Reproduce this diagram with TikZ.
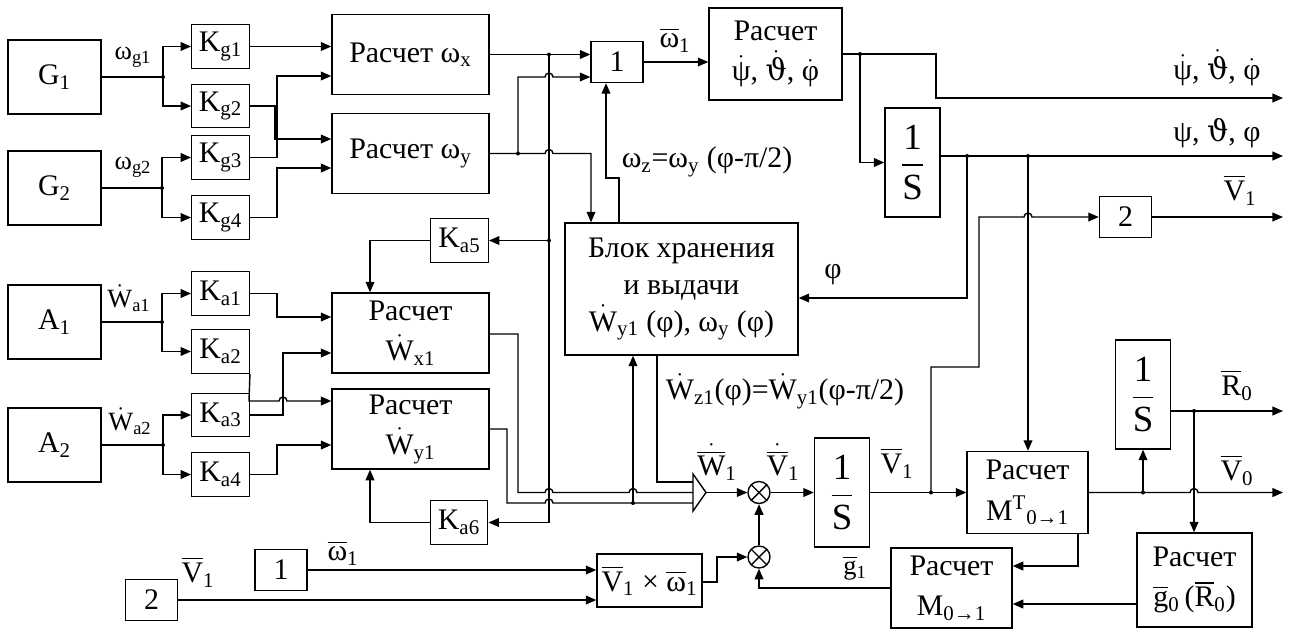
\documentclass[tikz,border=0pt]{standalone}
\usepackage{amsmath}
\usepackage{fontspec}
\setmainfont{Liberation Serif}
\newfontfamily\dvs{DejaVu Serif}
\usepackage{tikz}
\usetikzlibrary{arrows.meta,positioning}
\newcommand{\dt}[1]{\ensuremath{\dot{\hbox{#1}}}}
\newcommand{\br}[1]{\ensuremath{\overline{\hbox{#1}}}}
\newcommand{\dbr}[1]{\ensuremath{\dot{\overline{\hbox{#1}}}}}
\newcommand{\fr}{\ensuremath{\dfrac{\hbox{1}}{\hbox{S}}}}
\newcommand{\vth}{{\dvs ϑ}}

\begin{document}
\begin{tikzpicture}[
  x=0.02cm, y=-0.02cm, line width=0.8pt,
  font=\fontsize{17}{23}\selectfont,
  blk/.style={draw, align=center, inner sep=1pt},
  src/.style={blk, minimum width=1.86cm, minimum height=1.48cm},
  kbox/.style={blk, minimum width=1.15cm, minimum height=0.87cm},
  rbox/.style={blk, minimum width=3.14cm, minimum height=1.6cm},
  intg/.style={blk, minimum width=1.1cm, minimum height=2.18cm, font=\fontsize{21}{24}\selectfont},
  gain/.style={blk, minimum width=1.04cm, minimum height=0.82cm},
  mul/.style={draw, circle, minimum size=0.44cm, inner sep=0pt,
              path picture={\draw (path picture bounding box.north west) -- (path picture bounding box.south east)
                                  (path picture bounding box.north east) -- (path picture bounding box.south west);}},
  small/.style={font=\fontsize{15}{17}\selectfont},
  arr/.style={-{Triangle[length=6pt,width=5pt]}}]
  \useasboundingbox (0,0) rectangle (1293,630);

  \node[src] (G1) at (54.5,77) {G\textsubscript{1}};
  \node[src] (G2) at (54.5,188) {G\textsubscript{2}};
  \node[src] (A1) at (54.5,322) {A\textsubscript{1}};
  \node[src] (A2) at (54.5,445) {A\textsubscript{2}};
  \node[kbox] (Kg1) at (220.5,46.5) {K\textsubscript{g1}};
  \node[kbox] (Kg2) at (220.5,106) {K\textsubscript{g2}};
  \node[kbox] (Kg3) at (220.5,157.5) {K\textsubscript{g3}};
  \node[kbox] (Kg4) at (220.5,217.5) {K\textsubscript{g4}};
  \node[kbox] (Ka1) at (220.5,293.5) {K\textsubscript{a1}};
  \node[kbox] (Ka2) at (220.5,351.5) {K\textsubscript{a2}};
  \node[kbox] (Ka3) at (220.5,415) {K\textsubscript{a3}};
  \node[kbox] (Ka4) at (220.5,474.5) {K\textsubscript{a4}};
  \node[kbox] (Ka5) at (459.5,240.5) {K\textsubscript{a5}};
  \node[kbox] (Ka6) at (459,522.5) {K\textsubscript{a6}};
  \node[rbox] (Rwx) at (410.5,54.5) {Расчет ω\textsubscript{x}};
  \node[rbox] (Rwy) at (410.5,153.5) {Расчет ω\textsubscript{y}};
  \node[rbox] (RWx) at (410.5,333) {Расчет\\\dt{W}\textsubscript{x1}};
  \node[rbox] (RWy) at (410.5,429) {Расчет\\\dt{W}\textsubscript{y1}};
  \node[gain] (One) at (617,62) {1};
  \node[rbox, minimum width=2.66cm, minimum height=1.84cm] (Rpsi) at (775.5,54) {Расчет\\\dt{ψ}, \dt{\vth}, \dt{φ}};
  \node[intg] (Int1) at (912.5,162.5) {\fr};
  \node[gain] (Two) at (1125.5,217) {2};
  \node[blk, minimum width=4.66cm, minimum height=2.64cm, font=\fontsize{17}{21}\selectfont] (Blk) at (681.5,289)
    {Блок хранения\\и выдачи\\\dt{W}\textsubscript{y1} (φ), ω\textsubscript{y} (φ)};
  \node[mul] (M1) at (759,492.5) {};
  \node[mul] (M2) at (759,557) {};
  \node[blk, minimum width=2.1cm, minimum height=1.06cm] (VxW) at (649.5,580.5) {\br{V}\textsubscript{1} × \br{ω}\textsubscript{1}};
  \node[gain] (OneB) at (281,570) {1};
  \node[gain] (TwoB) at (151.5,600) {2};
  \node[intg] (Int2) at (842,492.5) {\fr};
  \node[intg] (Int3) at (1143,394.5) {\fr};
  \node[rbox, minimum width=2.42cm, minimum height=1.64cm] (RMT) at (1027.5,492.5) {Расчет\\M\textsuperscript{T}\textsubscript{0→1}};
  \node[rbox, minimum width=2.42cm, minimum height=1.6cm] (RM01) at (951.5,588) {Расчет\\M\textsubscript{0→1}};
  \node[rbox, minimum width=2.3cm, minimum height=1.88cm] (Rg0) at (1194.5,580) {Расчет\\\br{g}\textsubscript{0}\,(\br{R}\textsubscript{0})};

  \node[small] (lg1) at (133,57) {ω\textsubscript{g1}};
  \node[small] (lg2) at (133,167) {ω\textsubscript{g2}};
  \node[small] (la1) at (129,298) {\dt{W}\textsubscript{a1}};
  \node[small] (la2) at (130,421) {\dt{W}\textsubscript{a2}};
  \node (lw1) at (675,40) {\br{ω}\textsubscript{1}};
  \node (lwz) at (707,162) {ω\textsubscript{z}=ω\textsubscript{y} (φ-π/2)};
  \node (lo1) at (1217,68) {\dt{ψ}, \dt{\vth}, \dt{φ}};
  \node (lo2) at (1217,133) {ψ, \vth, φ};
  \node (lo3) at (1240,190) {\br{V}\textsubscript{1}};
  \node (lphi) at (833,275) {φ};
  \node (lwz1) at (785,391) {\dt{W}\textsubscript{z1}(φ)=\dt{W}\textsubscript{y1}(φ-π/2)};
  \node (lW1) at (717,462) {\dbr{W}\textsubscript{1}};
  \node (lV1d) at (783,462) {\dbr{V}\textsubscript{1}};
  \node (lV1) at (897,463) {\br{V}\textsubscript{1}};
  \node (lR0) at (1237,385) {\br{R}\textsubscript{0}};
  \node (lV0) at (1237,470) {\br{V}\textsubscript{0}};
  \node[small] (lg) at (855,568) {\br{g}\textsubscript{1}};
  \node (lwb) at (343,553) {\br{ω}\textsubscript{1}};
  \node (lvb) at (198,572) {\br{V}\textsubscript{1}};

  \coordinate (jg1) at (163,77);
  \coordinate (jg2) at (162,188);
  \coordinate (ja1) at (162,322);
  \coordinate (ja2) at (163,445);
  \coordinate (jwx) at (549,54.5);
  \coordinate (jwy) at (518,153.5);
  \coordinate (jpsi) at (860,54);
  \coordinate (jq1) at (967,156);
  \coordinate (jq2) at (1028,156);
  \coordinate (jv1) at (931,492.5);
  \coordinate (jbus) at (633,503);
  \coordinate (jr) at (1143,492.5);
  \coordinate (jR) at (1194,411);
  \coordinate (sum) at (706,492.5);
  \coordinate (o1) at (1283,98);
  \coordinate (o2) at (1283,156);
  \coordinate (o3) at (1283,217);
  \coordinate (o4) at (1283,492.5);
  \coordinate (o5) at (1283,411);

  \draw (G1) -- (jg1);
  \draw[arr] (jg1) |- (Kg1);
  \draw[arr] (jg1) |- (Kg2);
  \draw (G2) -- (jg2);
  \draw[arr] (jg2) |- (Kg3);
  \draw[arr] (jg2) |- (Kg4);
  \draw (A1) -- (ja1);
  \draw[arr] (ja1) |- (Ka1);
  \draw[arr] (ja1) |- (Ka2);
  \draw (A2) -- (ja2);
  \draw[arr] (ja2) |- (Ka3);
  \draw[arr] (ja2) |- (Ka4);

  \draw[arr] (Kg1) -- (Kg1 -| Rwx.west);
  \draw[arr] (Kg2.east) -| (275,139) -- (Rwy.west |- 0,139);
  \draw[arr] (Kg3.east) -| (277,76) -- (Rwx.west |- 0,76);
  \draw[arr] (Kg4.east) -| (277,168) -- (Rwy.west |- 0,168);
  \draw[arr] (Ka1.east) -| (277,317) -- (RWx.west |- 0,317);
  \draw[arr] (Ka3.east) -| (283,353) -- (RWx.west |- 0,353);
  \draw[arr] (Ka2.south east) -- (249,401) -- (279,401) arc[start angle=180,end angle=360,radius=4] -- (RWy.west |- 0,401);
  \draw[arr] (Ka4.east) -| (277,445) -- (RWy.west |- 0,445);

  \draw[arr] (Rwx) -- (Rwx -| One.west);
  \draw[arr] (jwx) |- (Ka6);
  \draw[arr] (jwx |- Ka5) -- (Ka5);
  \draw[arr] (Rwy) -- (545,153.5) arc[start angle=180,end angle=360,radius=4] -| (Blk.north -| 591,0);
  \draw[arr] (jwy) |- (545,77) arc[start angle=180,end angle=360,radius=4] -- (One.west |- 0,77);
  \draw[arr] (Ka5) -| (RWx.north -| 370,0);
  \draw[arr] (Ka6) -| (RWy.south -| 370,0);
  \draw[arr] (One) -- (One -| Rpsi.west);
  \draw[arr] (Blk.north -| 619,0) -- (619,178) -| (One.south -| 606,0);

  \draw[arr] (Rpsi) -| (936,98) -- (o1);
  \draw[arr] (jpsi) |- (Int1);
  \draw[arr] (Int1.east |- 0,156) -- (o2);
  \draw[arr] (jq1) |- (Blk.east |- 0,298);
  \draw[arr] (jq2) -- (jq2 |- RMT.north);
  \draw[arr] (jv1) |- (979,367) |- (1024,217) arc[start angle=180,end angle=360,radius=4] -- (Two);
  \draw[arr] (Two) -- (o3);

  \draw (RWx.east |- 0,334) -| (518,492.5) -- (545,492.5) arc[start angle=180,end angle=360,radius=4]
        -- (629,492.5) arc[start angle=180,end angle=360,radius=4] -- (693,492.5);
  \draw (RWy.east |- 0,429) -| (507,503) -- (545,503) arc[start angle=180,end angle=360,radius=4] -- (693,503);
  \draw[arr] (jbus) -- (jbus |- Blk.south);
  \draw (Blk.south -| 657,0) |- (693,482);
  \draw (693,474) -- (sum) -- (693,511) -- cycle;
  \draw[arr] (sum) -- (M1);
  \draw[arr] (M1) -- (M1 -| Int2.west);
  \draw[arr] (M2) -- (M1);
  \draw[arr] (VxW.east |- 0,582) -| (717,557) -- (M2);
  \draw[arr] (RM01) -| (M2);
  \draw[arr] (OneB) -- (OneB -| VxW.west);
  \draw[arr] (TwoB) -- (TwoB -| VxW.west);

  \draw[arr] (Int2) -- (Int2 -| RMT.west);
  \draw[arr] (RMT) -- (1190,492.5) arc[start angle=180,end angle=360,radius=4] -- (o4);
  \draw[arr] (jr) -- (Int3);
  \draw[arr] (Int3.east |- 0,411) -- (o5);
  \draw[arr] (jR) -- (jR |- Rg0.north);
  \draw[arr] (Rg0.west |- 0,604) -- (RM01.east |- 0,604);
  \draw[arr] (RMT.south -| 1078,0) |- (RM01.east |- 0,566);

  \foreach \j in {jg1,jg2,ja1,ja2,jwx,jwy,jpsi,jq1,jq2,jv1,jbus,jr,jR}
    \fill (\j) circle[radius=2];
  \fill (jwx |- Ka5) circle[radius=2];
\end{tikzpicture}
\end{document}
